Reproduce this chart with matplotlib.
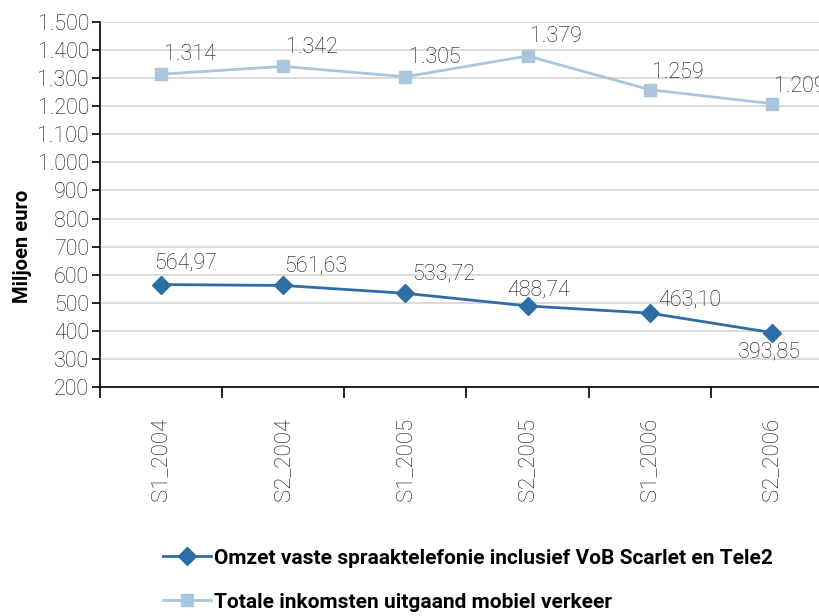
import matplotlib
matplotlib.use("Agg")
import matplotlib.pyplot as plt
from matplotlib.ticker import FuncFormatter, FixedLocator

plt.rcParams['font.family'] = ['Roboto', 'DejaVu Sans']

periods = ['S1_2004', 'S2_2004', 'S1_2005', 'S2_2005', 'S1_2006', 'S2_2006']
vast = [564.97, 561.63, 533.72, 488.74, 463.10, 393.85]
mobiel = [1314, 1342, 1305, 1379, 1259, 1209]
vast_label = 'Omzet vaste spraaktelefonie inclusief VoB Scarlet en Tele2'
mobiel_label = 'Totale inkomsten uitgaand mobiel verkeer'

# label offsets in pixels (dx, dy)
vast_off = [(-7, 22), (1, 19), (7, 19), (-20, 16), (8, 13), (-34, -19)]
mobiel_off = [(3, 20), (3, 19), (4, 19), (2, 19), (2, 17), (2, 17)]

txt_col = '#111111'

fig = plt.figure(figsize=(8.2, 6.16), dpi=100)
ax = fig.add_axes([100/820, (616-387)/616, (833-100)/820, (387-22)/616])

x = list(range(len(periods)))
ax.plot(x, vast, color='#2E6EA6', lw=2, marker='D', ms=9, label=vast_label, zorder=3)
ax.plot(x, mobiel, color='#A9C6DC', lw=2, marker='s', ms=9, label=mobiel_label, zorder=3)

for i, v in enumerate(vast):
    s = f'{v:.2f}'.replace('.', ',')
    ax.annotate(s, (i, v), xytext=vast_off[i], textcoords='offset pixels',
                ha='left', va='center', fontsize=15.5, fontweight='light', color=txt_col)
for i, v in enumerate(mobiel):
    s = f'{v/1000:.3f}'
    ax.annotate(s, (i, v), xytext=mobiel_off[i], textcoords='offset pixels',
                ha='left', va='center', fontsize=15.5, fontweight='light', color=txt_col,
                annotation_clip=False)

ax.set_ylim(200, 1500)
ax.set_xlim(-0.5, len(periods) - 0.5)
ax.set_yticks(range(200, 1501, 100))
ax.yaxis.set_major_formatter(FuncFormatter(lambda v, p: f'{int(v):,}'.replace(',', '.')))
ax.grid(axis='y', color='#d4d4d4', lw=1.2)
ax.set_axisbelow(True)

ax.set_xticks(x)
ax.set_xticklabels(periods, rotation=90, va='top', ha='center')
ax.xaxis.set_minor_locator(FixedLocator([i - 0.5 for i in range(len(periods) + 1)]))
ax.tick_params(axis='x', which='major', length=0, pad=22, labelsize=16, labelcolor=txt_col)
ax.tick_params(axis='x', which='minor', length=8, width=1.2, direction='out')
ax.tick_params(axis='y', length=6, width=1.2, direction='out', labelsize=15.5,
               labelcolor=txt_col, pad=2)
for lbl in ax.get_xticklabels() + ax.get_yticklabels():
    lbl.set_fontweight('light')

for side in ['top', 'right']:
    ax.spines[side].set_visible(False)
ax.spines['left'].set_linewidth(1.2)
ax.spines['bottom'].set_linewidth(1.2)

ax.set_ylabel('Miljoen euro', fontsize=14.5, fontweight='bold')
ax.yaxis.set_label_coords(-0.106, 0.386)
ax.yaxis.label.set_va('center')

leg = fig.legend(loc='upper left', bbox_to_anchor=(144/820, 1 - 530/616), frameon=False,
                 handlelength=2.3, handletextpad=0.15, labelspacing=1.2,
                 prop={'size': 15, 'weight': 'bold'})

fig.savefig('out.png', dpi=100)
